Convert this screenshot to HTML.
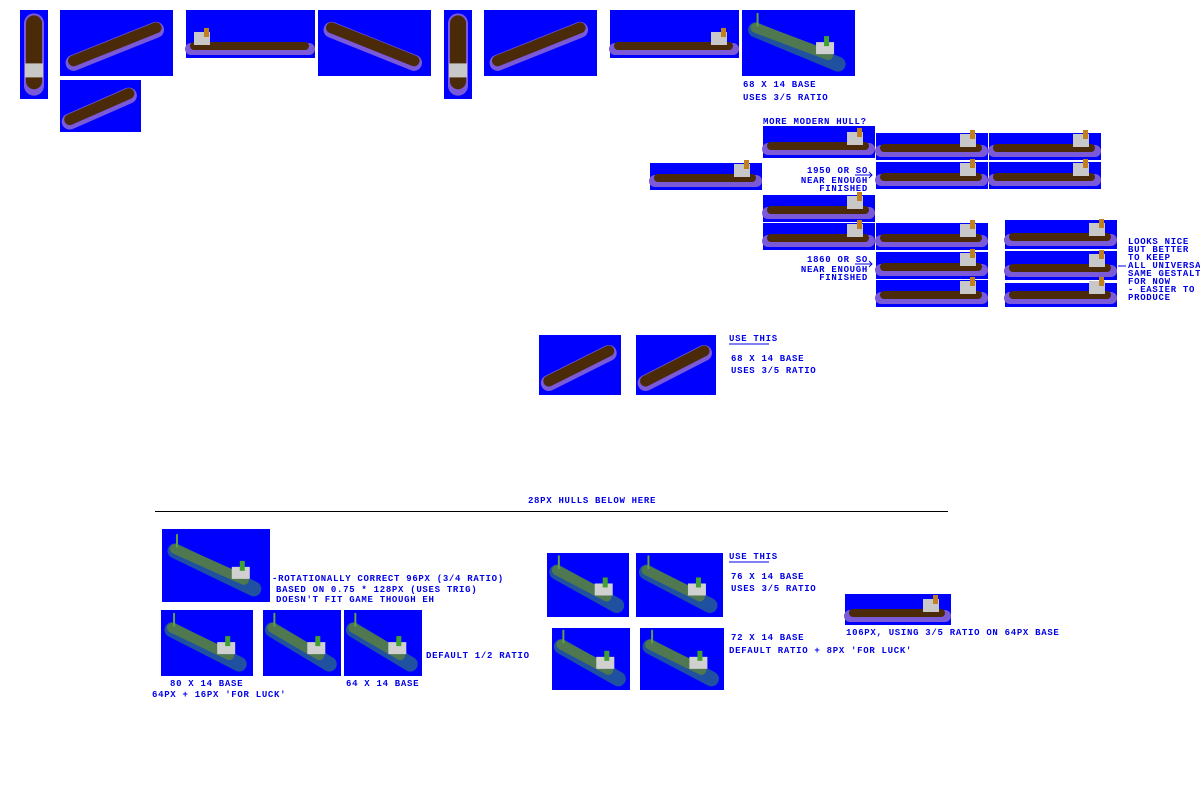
<!DOCTYPE html>
<html><head><meta charset="utf-8"><style>
html,body{margin:0;padding:0;background:#fff;width:1200px;height:800px;overflow:hidden}
svg{display:block}
text{font-family:"Liberation Mono",monospace;font-size:9px;font-weight:bold;letter-spacing:0.7px;fill:#0000e8}
</style></head><body>
<svg id="s" width="1200" height="800" xmlns="http://www.w3.org/2000/svg">
<g id="shapes"></g>
<text x="743" y="87">68 X 14 BASE</text>
<text x="743" y="100">USES 3/5 RATIO</text>
<text x="763" y="124">MORE MODERN HULL?</text>
<text x="868" y="173" text-anchor="end">1950 OR SO</text>
<text x="868" y="183" text-anchor="end">NEAR ENOUGH</text>
<text x="868" y="191" text-anchor="end">FINISHED</text>
<text x="868" y="262" text-anchor="end">1860 OR SO</text>
<text x="868" y="272" text-anchor="end">NEAR ENOUGH</text>
<text x="868" y="280" text-anchor="end">FINISHED</text>
<path d="M855 175h17M869 172l3 3-3 3M855 264h17M869 261l3 3-3 3M1118 266h8" stroke="#0000e8" fill="none"/>
<text x="1128" y="244">LOOKS NICE</text>
<text x="1128" y="252">BUT BETTER</text>
<text x="1128" y="260">TO KEEP</text>
<text x="1128" y="268">ALL UNIVERSAL</text>
<text x="1128" y="276">SAME GESTALT</text>
<text x="1128" y="284">FOR NOW</text>
<text x="1128" y="292">- EASIER TO</text>
<text x="1128" y="300">PRODUCE</text>
<text x="729" y="341">USE THIS</text>
<path d="M729 344h40" stroke="#0000e8"/>
<text x="731" y="361">68 X 14 BASE</text>
<text x="731" y="373">USES 3/5 RATIO</text>
<text x="592" y="503" text-anchor="middle">28PX HULLS BELOW HERE</text>
<path d="M155 511.5h793" stroke="#000"/>
<text x="272" y="581">-ROTATIONALLY CORRECT 96PX (3/4 RATIO)</text>
<text x="276" y="592">BASED ON 0.75 * 128PX (USES TRIG)</text>
<text x="276" y="602">DOESN'T FIT GAME THOUGH EH</text>
<text x="426" y="658">DEFAULT 1/2 RATIO</text>
<text x="170" y="686">80 X 14 BASE</text>
<text x="152" y="697">64PX + 16PX 'FOR LUCK'</text>
<text x="346" y="686">64 X 14 BASE</text>
<text x="729" y="559">USE THIS</text>
<path d="M729 562h40" stroke="#0000e8"/>
<text x="731" y="579">76 X 14 BASE</text>
<text x="731" y="591">USES 3/5 RATIO</text>
<text x="731" y="640">72 X 14 BASE</text>
<text x="729" y="653">DEFAULT RATIO + 8PX 'FOR LUCK'</text>
<text x="846" y="635">106PX, USING 3/5 RATIO ON 64PX BASE</text>
</svg>
<script>
var g=document.getElementById('shapes'),h='';
function R(x,y,w,hh){h+='<rect x="'+x+'" y="'+y+'" width="'+w+'" height="'+hh+'" fill="#0000ff"/>';}
function L(x1,y1,x2,y2,c,w){h+='<line x1="'+x1+'" y1="'+y1+'" x2="'+x2+'" y2="'+y2+'" stroke="'+c+'" stroke-width="'+w+'" stroke-linecap="round"/>';}
function hor(x,y,w,hh,rev){R(x,y,w,hh);var yb=y+hh-9;L(x+5,yb,x+w-6,yb,'#7a5ad8',12);L(x+8,yb-3,x+w-10,yb-3,'#4a2a08',8);
 var bx=rev?x+8:x+w-28;h+='<rect x="'+bx+'" y="'+(yb-17)+'" width="16" height="13" fill="#c8c8c8"/><rect x="'+(bx+10)+'" y="'+(yb-21)+'" width="5" height="9" fill="#c08020"/>';}
function up(x,y,w,hh){R(x,y,w,hh);var x1=x+w*0.12,y1=y+hh*0.8,x2=x+w*0.85,y2=y+hh*0.3;L(x1,y1,x2,y2,'#7a5ad8',16);L(x1,y1-2,x2,y2-2,'#4a2a08',11);}
function dn(x,y,w,hh){R(x,y,w,hh);var x1=x+w*0.12,y1=y+hh*0.3,x2=x+w*0.85,y2=y+hh*0.8;L(x1,y1,x2,y2,'#7a5ad8',16);L(x1,y1-2,x2,y2-2,'#4a2a08',11);}
function grn(x,y,w,hh){R(x,y,w,hh);var x1=x+w*0.12,y1=y+hh*0.3,x2=x+w*0.85,y2=y+hh*0.82;L(x1,y1,x2,y2,'#2050a0',15);L(x1,y1-2,x2-10,y2-9,'#507850',10);
 h+='<rect x="'+(x2-22)+'" y="'+(y2-22)+'" width="18" height="12" fill="#d0d0d0"/><rect x="'+(x2-14)+'" y="'+(y2-28)+'" width="5" height="10" fill="#40a030"/>';L(x1+2,y1-4,x1+2,y1-16,'#60a040',2);}
function ver(x,y,w,hh){R(x,y,w,hh);L(x+w/2,y+hh*0.15,x+w/2,y+hh*0.85,'#7a5ad8',w-8);L(x+w/2,y+hh*0.15,x+w/2,y+hh*0.8,'#4a2a08',w-12);h+='<rect x="'+(x+5)+'" y="'+(y+hh*0.6)+'" width="'+(w-10)+'" height="14" fill="#c8c8c8"/>';}
ver(20,10,28,89);up(60,10,113,66);up(60,80,81,52);hor(186,10,129,48,1);dn(318,10,113,66);ver(444,10,28,89);up(484,10,113,66);hor(610,10,129,48);grn(742,10,113,66);
hor(763,126,112,32);hor(876,133,112,27);hor(989,133,112,27);hor(650,163,112,27);hor(876,162,112,27);hor(989,162,112,27);
hor(763,195,112,27);hor(763,223,112,27);hor(876,223,112,27);hor(876,252,112,27);hor(876,280,112,27);
hor(1005,220,112,29);hor(1005,251,112,29);hor(1005,283,112,24);
up(539,335,82,60);up(636,335,80,60);
grn(162,529,108,73);grn(161,610,92,66);grn(263,610,78,66);grn(344,610,78,66);
grn(547,553,82,64);grn(636,553,87,64);grn(552,628,78,62);grn(640,628,84,62);hor(845,594,106,31);
g.innerHTML=h;
</script>
</body></html>
